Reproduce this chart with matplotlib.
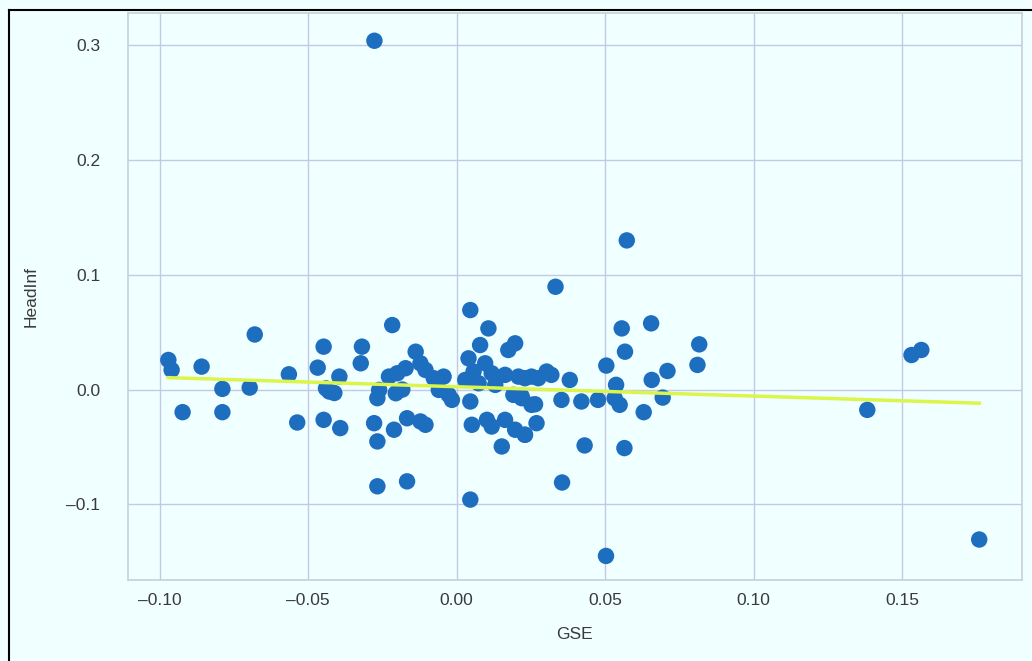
import numpy as np
import matplotlib
matplotlib.use("Agg")
import matplotlib.pyplot as plt

plt.rcParams['font.family'] = ['Liberation Sans', 'DejaVu Sans']

# GSE (x) and HeadInf (y)
gse = [-0.0971, -0.0960, -0.0859, -0.0680, -0.0789, -0.0697, -0.0923, -0.0789,
       -0.0565, -0.0537, -0.0448, -0.0468, -0.0395, -0.0429, -0.0440, -0.0412,
       -0.0448, -0.0392, -0.0319, -0.0323, -0.0217, -0.0138, -0.0122, -0.0105,
       -0.0172, -0.0200, -0.0228, -0.0044, -0.0077, -0.0060, -0.0027, -0.0016,
       -0.0267, -0.0261, -0.0205, -0.0183, -0.0278, -0.0267, -0.0211, -0.0167,
       -0.0105, -0.0122, -0.0267, -0.0167, 0.0046, 0.0046, 0.0107, 0.0197,
       0.0174, 0.0079, 0.0040, 0.0096, 0.0057, 0.0118, 0.0163, 0.0208,
       0.0252, 0.0029, 0.0074, 0.0130, 0.0191, 0.0219, 0.0252, 0.0046,
       0.0051, 0.0102, 0.0118, 0.0163, 0.0197, 0.0230, 0.0152, 0.0333,
       0.0556, 0.0655, 0.0817, 0.0811, 0.0567, 0.0504, 0.0710, 0.0657,
       0.0537, 0.0694, 0.0549, 0.0630, 0.0303, 0.0230, 0.0275, 0.0319,
       0.0381, 0.0219, 0.0264, 0.0353, 0.0420, 0.0476, 0.0532, 0.0269,
       0.0230, 0.0431, 0.0565, 0.0355, 0.0503, -0.0277, 0.0573, 0.1532,
       0.1565, 0.1383, 0.1760]
headinf = [0.0258, 0.0171, 0.0200, 0.0480, 0.0006, 0.0017, -0.0197, -0.0197,
           0.0133, -0.0287, 0.0374, 0.0191, 0.0113, -0.0017, 0.0010, -0.0030,
           -0.0264, -0.0336, 0.0374, 0.0229, 0.0562, 0.0330, 0.0229, 0.0171,
           0.0186, 0.0142, 0.0113, 0.0113, 0.0099, -0.0003, -0.0046, -0.0090,
           -0.0075, -0.0003, -0.0032, 0.0000, -0.0293, -0.0452, -0.0350, -0.0250,
           -0.0307, -0.0278, -0.0843, -0.0800, -0.0959, 0.0693, 0.0533, 0.0403,
           0.0345, 0.0388, 0.0272, 0.0229, 0.0157, 0.0142, 0.0128, 0.0113,
           0.0113, 0.0084, 0.0055, 0.0041, -0.0046, -0.0075, -0.0133, -0.0104,
           -0.0307, -0.0264, -0.0322, -0.0264, -0.0350, -0.0394, -0.0496, 0.0896,
           0.0533, 0.0577, 0.0394, 0.0215, 0.0330, 0.0209, 0.0162, 0.0084,
           0.0041, -0.0070, -0.0133, -0.0197, 0.0157, 0.0099, 0.0099, 0.0128,
           0.0084, -0.0060, -0.0128, -0.0090, -0.0104, -0.0090, -0.0075, -0.0293,
           -0.0394, -0.0487, -0.0510, -0.0810, -0.1450, 0.3040, 0.1300, 0.0301,
           0.0345, -0.0177, -0.1307]

x_ticks = [-0.10, -0.05, 0.00, 0.05, 0.10, 0.15]
x_ticklabels = ["\u20130.10", "\u20130.05", "0.00", "0.05", "0.10", "0.15"]
y_ticks = [-0.1, 0.0, 0.1, 0.2, 0.3]
y_ticklabels = ["\u20130.1", "0.0", "0.1", "0.2", "0.3"]

x = np.array(gse)
y = np.array(headinf)

fig = plt.figure(figsize=(10.32, 6.61), dpi=100, facecolor="#f0ffff")
ax = fig.add_axes([0.124, 0.1225, 0.866, 0.8575])
ax.set_facecolor("#f0ffff")

# grid
ax.grid(True, color="#c3c8e6", linewidth=1.0)
ax.set_axisbelow(True)
for side in ax.spines.values():
    side.set_color("#c8d0d8")
    side.set_linewidth(1.2)

ax.scatter(x, y, s=140, color="#1e6ec0", edgecolors="none", zorder=3)

# fitted line
slope, intercept = np.polyfit(x, y, 1)
xs = np.array([x.min(), x.max()])
ax.plot(xs, slope * xs + intercept, color="#dcf54a", linewidth=2.5, zorder=4)

ax.set_xlim(-0.1107, 0.1903)
ax.set_ylim(-0.166, 0.328)
ax.set_xticks(x_ticks)
ax.set_yticks(y_ticks)
ax.set_xticklabels(x_ticklabels)
ax.set_yticklabels(y_ticklabels)
ax.tick_params(length=0, labelsize=12.5, labelcolor="#3a3a3a")
ax.tick_params(axis='x', pad=9)
ax.tick_params(axis='y', pad=20)

ax.set_xlabel("GSE", fontsize=12.5, color="#3a3a3a", labelpad=14)
ax.set_ylabel("HeadInf", fontsize=12.5, color="#3a3a3a", labelpad=20)

# black frame on left and top of the image
fig.add_artist(plt.Line2D([9 / 1032, 9 / 1032], [0, 1 - 10 / 661],
                          transform=fig.transFigure, color="black", linewidth=1.5))
fig.add_artist(plt.Line2D([9 / 1032, 1], [1 - 10 / 661, 1 - 10 / 661],
                          transform=fig.transFigure, color="black", linewidth=1.5))

fig.savefig("out.png", dpi=100, facecolor=fig.get_facecolor())
